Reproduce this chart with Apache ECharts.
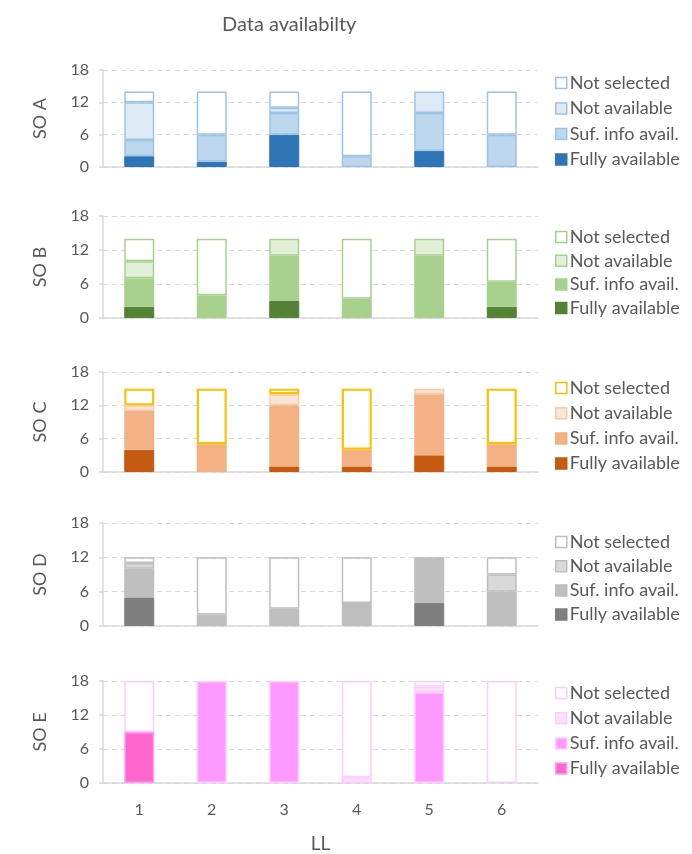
<!DOCTYPE html>
<html>
<head>
<meta charset="utf-8">
<script src="https://cdn.jsdelivr.net/npm/echarts@6/dist/echarts.min.js"></script>
<style>
  html, body { margin: 0; padding: 0; background: #fff; }
  #chart { width: 692px; height: 854px; }
</style>
</head>
<body>
<div id="chart"></div>
<script>
// Lessons learned (LL) 1..6 on the x axis
const categories = ['1', '2', '3', '4', '5', '6'];
const yTicks = [0, 6, 12, 18];

// Stack order from bottom to top; legend lists them top to bottom
const statusNames = ['Fully available', 'Suf. info avail.', 'Not available', 'Not selected'];

// SO A
const soA_fully    = [2, 1, 6, 0, 3, 0];
const soA_suf      = [3, 5, 4, 2, 7, 6];
const soA_notAvail = [7, 0, 1, 0, 4, 0];
const soA_notSel   = [2, 8, 3, 12, 0, 8];

// SO B
const soB_fully    = [2, 0, 3, 0, 0, 2];
const soB_suf      = [5, 4, 8, 3, 11, 4];
const soB_notAvail = [3, 0, 3, 0.4, 3, 0.4];
const soB_notSel   = [4, 10, 0, 10.6, 0, 7.6];

// SO C
const soC_fully    = [4, 0, 1, 1, 3, 1];
const soC_suf      = [7, 5, 11, 3, 11, 4];
const soC_notAvail = [1, 0, 2, 0, 1, 0];
const soC_notSel   = [3, 10, 1, 11, 0, 10];

// SO D
const soD_fully    = [5, 0, 0, 0, 4, 0];
const soD_suf      = [5, 2, 3, 4, 8, 6];
const soD_notAvail = [1, 0, 0, 0, 0, 3];
const soD_notSel   = [1, 10, 9, 8, 0, 3];

// SO E
const soE_fully    = [9, 0, 0, 0, 0, 0];
const soE_suf      = [0, 18, 18, 0, 16, 0];
const soE_notAvail = [0, 0, 0, 1, 1, 0];
const soE_notSel   = [9, 0, 0, 17, 1, 18];

const panels = [
  { name: 'SO A', top: 70,  height: 97,  legendTop: 74,  legendGap: 7.5,
    data: [soA_fully, soA_suf, soA_notAvail, soA_notSel],
    fill:   ['#2E75B6', '#BDD7EE', '#DEEBF7', '#FFFFFF'],
    border: ['#2E75B6', '#9DC3E6', '#9DC3E6', '#9DC3E6'], borderW: [1, 1.5, 1.5, 1.5] },
  { name: 'SO B', top: 216, height: 102, legendTop: 228, legendGap: 5.7,
    data: [soB_fully, soB_suf, soB_notAvail, soB_notSel],
    fill:   ['#548235', '#A9D18E', '#E2F0D9', '#FFFFFF'],
    border: ['#548235', '#A9D18E', '#A9D18E', '#A9D18E'], borderW: [1, 1.5, 1.5, 1.5] },
  { name: 'SO C', top: 372, height: 100, legendTop: 379, legendGap: 7.2,
    data: [soC_fully, soC_suf, soC_notAvail, soC_notSel],
    fill:   ['#C55A11', '#F4B183', '#FBE5D6', '#FFFFFF'],
    border: ['#C55A11', '#F4B183', '#F8CBAD', '#FFC000'], borderW: [1, 1.5, 1.5, 2.2] },
  { name: 'SO D', top: 523, height: 103, legendTop: 533, legendGap: 6.2,
    data: [soD_fully, soD_suf, soD_notAvail, soD_notSel],
    fill:   ['#7F7F7F', '#BFBFBF', '#D9D9D9', '#FFFFFF'],
    border: ['#7F7F7F', '#BFBFBF', '#BFBFBF', '#BFBFBF'], borderW: [1, 1.5, 1.5, 1.5] },
  { name: 'SO E', top: 681, height: 102, legendTop: 684, legendGap: 7.2,
    data: [soE_fully, soE_suf, soE_notAvail, soE_notSel],
    fill:   ['#FF66CC', '#FF99FF', '#FFE1FF', '#FFFFFF'],
    border: ['#FF99FF', '#FFCCFF', '#FFCCFF', '#FFCCFF'], borderW: [1.5, 1.5, 1.5, 1.5] }
];

const FONT = 'Lato, "Open Sans", sans-serif';
const TEXT = '#595959';
const SEP = '\u0001';

// Empty segments are left undrawn so they leave no stray outline
function segment(values) {
  return values.map(function (v) { return v === 0 ? '-' : v; });
}

const grid = [], xAxis = [], yAxis = [], series = [], legend = [];

panels.forEach(function (p, i) {
  const last = i === panels.length - 1;
  grid.push({ left: 103, width: 435, top: p.top, height: p.height });
  xAxis.push({
    type: 'category', gridIndex: i, data: categories,
    axisLine: { lineStyle: { color: '#D9D9D9', width: 1.5 } },
    axisTick: { show: false },
    axisLabel: { show: last, color: TEXT, fontSize: 16, fontFamily: FONT, margin: 19 },
    name: last ? 'LL' : '', nameLocation: 'middle', nameGap: 51,
    nameTextStyle: { color: TEXT, fontSize: 19, fontFamily: FONT }
  });
  yAxis.push({
    type: 'value', gridIndex: i, min: yTicks[0], max: yTicks[yTicks.length - 1], interval: 6,
    axisLine: { show: true, lineStyle: { color: '#D9D9D9', width: 1.5 } },
    axisTick: { show: true, length: 4, lineStyle: { color: '#D9D9D9', width: 1.5 } },
    splitLine: { lineStyle: { color: '#D9D9D9', type: [5, 4], width: 1 } },
    axisLabel: { color: TEXT, fontSize: 16, fontFamily: FONT, margin: 14 },
    name: p.name, nameLocation: 'middle', nameGap: 54,
    nameTextStyle: { color: TEXT, fontSize: 18, fontFamily: FONT }
  });
  const names = [];
  statusNames.forEach(function (s, k) {
    const sname = p.name + SEP + s;
    names.push(sname);
    series.push({
      type: 'bar', name: sname, xAxisIndex: i, yAxisIndex: i, stack: p.name,
      barWidth: 30, data: segment(p.data[k]),
      itemStyle: { color: p.fill[k], borderColor: p.border[k], borderWidth: p.borderW[k] },
      emphasis: { disabled: true }
    });
  });
  legend.push({
    orient: 'vertical', left: 555, top: p.legendTop, padding: 0,
    data: names.slice().reverse(), icon: 'rect', itemWidth: 11, itemHeight: 11,
    itemGap: p.legendGap, selectedMode: false,
    itemStyle: { borderWidth: 1.5 },
    formatter: function (n) { return n.split(SEP)[1]; },
    textStyle: { color: TEXT, fontSize: 18, fontFamily: FONT, lineHeight: 18, padding: [0, 0, 0, -2] }
  });
});

const chart = echarts.init(document.getElementById('chart'), null, { renderer: 'canvas' });
chart.setOption({
  animation: false,
  backgroundColor: '#FFFFFF',
  title: {
    text: 'Data availabilty', left: 217, top: 10,
    textStyle: { color: TEXT, fontSize: 20, fontWeight: 'normal', fontFamily: FONT }
  },
  grid: grid, xAxis: xAxis, yAxis: yAxis, legend: legend, series: series
});
</script>
</body>
</html>
